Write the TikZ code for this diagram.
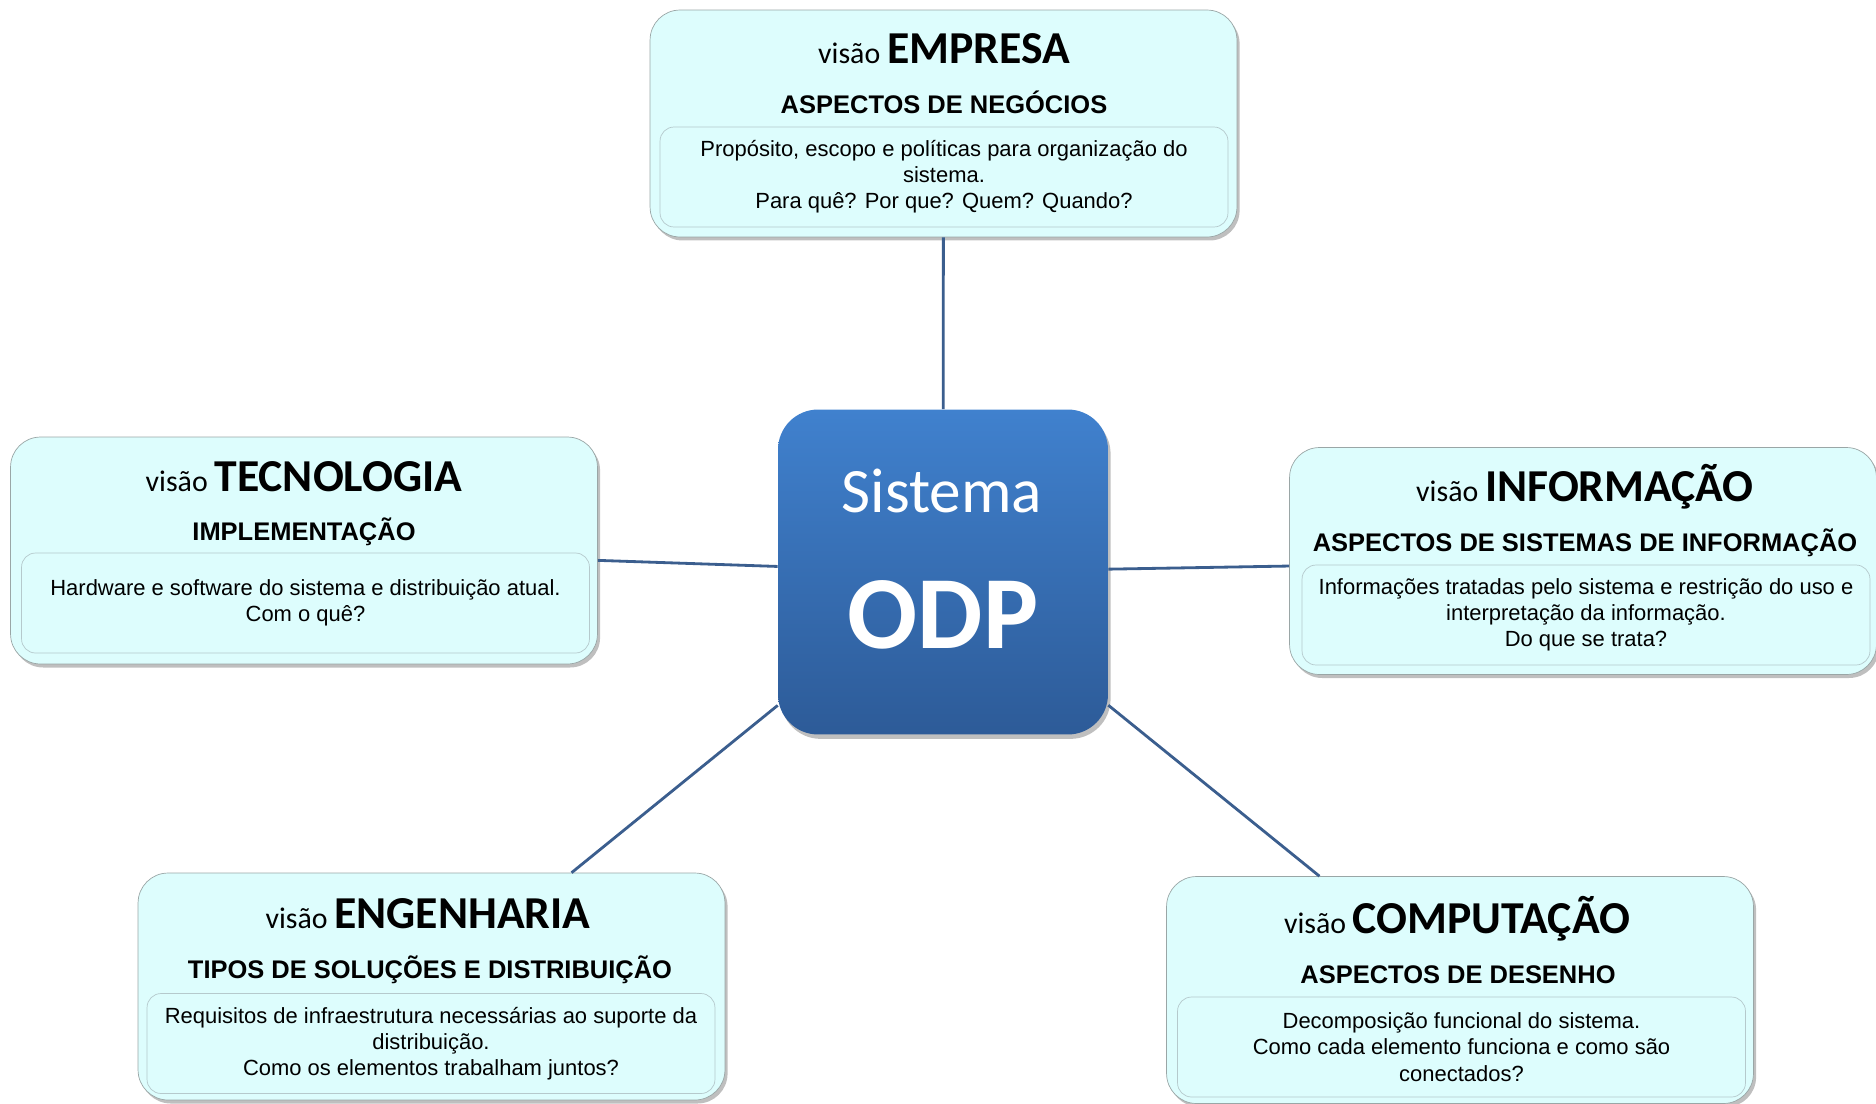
\documentclass[tikz,border=0pt]{standalone}
\usepackage{fontspec}
\setmainfont{Liberation Sans}
\newfontfamily\calibri{Carlito}
\usetikzlibrary{shadows}
\definecolor{boxfill}{HTML}{DDFDFD}
\definecolor{boxline}{HTML}{9AA6A6}
\definecolor{innerline}{HTML}{B5C9CC}
\definecolor{odptop}{HTML}{4081CE}
\definecolor{odpbot}{HTML}{2D5B98}
\definecolor{linkblue}{HTML}{3B5E8E}
\newcommand{\visao}[1]{{\calibri\fontsize{17}{20}\selectfont visão \fontsize{26}{30}\selectfont\bfseries #1}}
\begin{document}
\begin{tikzpicture}[x=0.02cm,y=-0.02cm,
    viewbox/.style={draw=boxline, fill=boxfill, rounded corners=0.6cm,
      minimum width=11.74cm, minimum height=4.54cm,
      drop shadow={shadow xshift=1.5pt, shadow yshift=-2pt, fill=black!50, opacity=0.5}},
    detailbox/.style={draw=innerline, fill=boxfill, rounded corners=0.28cm,
      minimum width=11.36cm, minimum height=2cm, align=center, inner sep=2pt,
      font=\fontsize{12.5}{14.9}\selectfont},
    viewtitle/.style={anchor=base, inner sep=0pt},
    viewsub/.style={anchor=base, inner sep=0pt, font=\fontsize{14.5}{17}\selectfont\bfseries},
    odp/.style={top color=odptop, bottom color=odpbot, draw=none, rounded corners=0.8cm,
      minimum width=6.6cm, minimum height=6.5cm,
      drop shadow={shadow xshift=1.5pt, shadow yshift=-2.5pt, fill=black!50, opacity=0.5}},
    link/.style={draw=linkblue, line width=1.6pt}]
  \useasboundingbox (0,0) rectangle (1876,1103);
  % centro
  \node[odp] (sys) at (943,572) {};
  \node[anchor=base, text=white, font=\calibri\fontsize{36}{40}\selectfont] (sys-a) at (942,512) {Sistema};
  \node[anchor=base, text=white, font=\calibri\fontsize{59}{64}\selectfont\bfseries] (sys-b) at (943,648) {ODP};
  % empresa
  \node[viewbox] (empresa) at (943.5,123.5) {};
  \node[viewtitle] (empresa-t) at (944,63) {\visao{EMPRESA}};
  \node[viewsub] (empresa-s) at (944,113) {ASPECTOS DE NEGÓCIOS};
  \node[detailbox] (empresa-d) at (944,177) {Propósito, escopo e políticas para organização do\\ sistema.\\ Para quê? Por que? Quem? Quando?};
  % tecnologia
  \node[viewbox] (tecnologia) at (304,550.5) {};
  \node[viewtitle] (tecnologia-t) at (304,491) {\visao{TECNOLOGIA}};
  \node[viewsub] (tecnologia-s) at (304,540) {IMPLEMENTAÇÃO};
  \node[detailbox] (tecnologia-d) at (305.5,603) {Hardware e software do sistema e distribuição atual.\\ Com o quê?};
  % informacao
  \node[viewbox] (informacao) at (1583,561) {};
  \node[viewtitle] (informacao-t) at (1585,501) {\visao{INFORMAÇÃO}};
  \node[viewsub] (informacao-s) at (1585,551) {ASPECTOS DE SISTEMAS DE INFORMAÇÃO};
  \node[detailbox] (informacao-d) at (1586,615) {Informações tratadas pelo sistema e restrição do uso e\\ interpretação da informação.\\ Do que se trata?};
  % engenharia
  \node[viewbox] (engenharia) at (431.5,986.5) {};
  \node[viewtitle] (engenharia-t) at (428,928) {\visao{ENGENHARIA}};
  \node[viewsub] (engenharia-s) at (430,978) {TIPOS DE SOLUÇÕES E DISTRIBUIÇÃO};
  \node[detailbox] (engenharia-d) at (431,1043.5) {Requisitos de infraestrutura necessárias ao suporte da\\ distribuição.\\ Como os elementos trabalham juntos?};
  % computacao
  \node[viewbox] (computacao) at (1460,990) {};
  \node[viewtitle] (computacao-t) at (1457,933) {\visao{COMPUTAÇÃO}};
  \node[viewsub] (computacao-s) at (1458,983) {ASPECTOS DE DESENHO};
  \node[detailbox] (computacao-d) at (1461.5,1047) {Decomposição funcional do sistema.\\ Como cada elemento funciona e como são\\ conectados?};
  % ligacoes
  \draw[link] (sys) -- (empresa);
  \draw[link] (sys) -- (tecnologia);
  \draw[link] (sys) -- (informacao);
  \draw[link] (sys) -- (engenharia);
  \draw[link] (sys) -- (computacao);
\end{tikzpicture}
\end{document}
